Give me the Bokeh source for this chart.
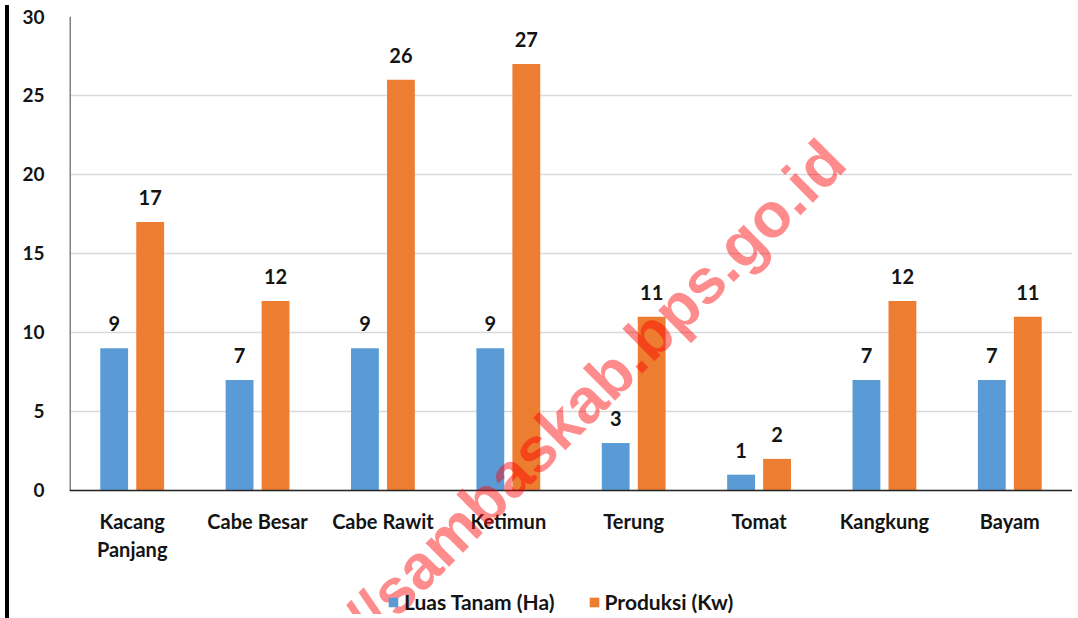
from bokeh.plotting import figure
from bokeh.models import (FactorRange, Range1d, ColumnDataSource, LabelSet, Label,
                          Legend, FixedTicker, Div, Span)
from bokeh.transform import dodge
from bokeh.layouts import row
from bokeh.core.properties import value
from bokeh.embed import file_html
from bokeh.resources import INLINE

# ---- data ----
categories = ["Kacang Panjang", "Cabe Besar", "Cabe Rawit", "Ketimun",
              "Terung", "Tomat", "Kangkung", "Bayam"]
tick_labels = ["Kacang\nPanjang", "Cabe Besar", "Cabe Rawit", "Ketimun",
               "Terung", "Tomat", "Kangkung", "Bayam"]
luas_tanam = [9, 7, 9, 9, 3, 1, 7, 7]
produksi = [17, 12, 26, 27, 11, 2, 12, 11]
series_names = ["Luas Tanam (Ha)", "Produksi (Kw)"]
y_ticks = [0, 5, 10, 15, 20, 25, 30]
watermark = "//sambaskab.bps.go.id"

BLUE = "#5B9BD5"
ORANGE = "#ED7D31"
TXT = "#141414"
FONT = "Lato"

line1 = [t.split("\n")[0] for t in tick_labels]
line2 = [t.split("\n")[1] if "\n" in t else "" for t in tick_labels]

src = ColumnDataSource(dict(
    cat=categories,
    luas=luas_tanam,
    prod=produksi,
    luas_lbl=[str(v) for v in luas_tanam],
    prod_lbl=[str(v) for v in produksi],
    l1=line1,
    l2=line2,
    zero=[0] * len(categories),
))

H = 614
# frame extends to the bottom of the canvas so that labels, legend and the
# watermark below the zero line are drawn inside it
p = figure(x_range=FactorRange(*categories), y_range=Range1d(-7.85, y_ticks[-1]),
           width=1058, height=H, output_backend="svg", toolbar_location=None,
           min_border_left=55, min_border_right=0, min_border_top=16,
           min_border_bottom=0)
p.outline_line_color = None
p.background_fill_color = "white"
p.border_fill_color = "white"

off = 0.1435
bw = 0.222
r1 = p.vbar(x=dodge("cat", -off, range=p.x_range), top="luas", width=bw,
            source=src, fill_color=BLUE, line_color=None)
r2 = p.vbar(x=dodge("cat", off, range=p.x_range), top="prod", width=bw,
            source=src, fill_color=ORANGE, line_color=None)

for col, lbl, o in (("luas", "luas_lbl", -off), ("prod", "prod_lbl", off)):
    p.add_layout(LabelSet(x=dodge("cat", o, range=p.x_range), y=col, text=lbl,
                          source=src, y_offset=17, text_align="center",
                          text_baseline="alphabetic", text_font=value(FONT),
                          text_font_style="bold", text_font_size="20px",
                          text_color=TXT))

# category labels under the zero line
for col, yo in (("l1", -31), ("l2", -59)):
    p.add_layout(LabelSet(x="cat", y="zero", text=col, source=src,
                          y_offset=yo, text_align="center",
                          text_baseline="middle", text_font=value(FONT),
                          text_font_style="bold", text_font_size="20px",
                          text_color=TXT))

# axes
p.xaxis.visible = False
p.xgrid.grid_line_color = None
p.yaxis.ticker = FixedTicker(ticks=y_ticks)
p.ygrid.grid_line_color = "#d9d9d9"
p.ygrid.grid_line_width = 1.5
p.yaxis.axis_line_color = None
p.yaxis.major_tick_line_color = None
p.yaxis.minor_tick_line_color = None
p.yaxis.major_label_standoff = 19
p.yaxis.major_label_text_font = FONT
p.yaxis.major_label_text_font_style = "bold"
p.yaxis.major_label_text_font_size = "19px"
p.yaxis.major_label_text_color = TXT

# y-axis line from 0 to 30 and the zero (category axis) line
p.segment(x0=[0], y0=[y_ticks[0]], x1=[0], y1=[y_ticks[-1]],
          line_color="#7f7f7f", line_width=3)
p.add_layout(Span(location=0, dimension="width", line_color="#262626",
                  line_width=1.5))

legend = Legend(items=[(series_names[0], [r1]), (series_names[1], [r2])],
                location=(318, 0), orientation="horizontal",
                glyph_width=12, glyph_height=12, label_height=16,
                label_standoff=5, spacing=33, padding=0, margin=0,
                border_line_color=None, background_fill_alpha=0,
                label_text_font=FONT, label_text_font_style="bold",
                label_text_font_size="21px", label_text_color=TXT,
                label_text_baseline="middle")
p.add_layout(legend, "center")

p.add_layout(Label(x=2.286, y=-8.73, text=watermark, angle=45,
                   angle_units="deg", text_font="Liberation Sans",
                   text_font_style="bold", text_font_size="63px",
                   text_color="#ff0000", text_alpha=0.45,
                   text_align="left", text_baseline="alphabetic"))

bar = Div(width=4, height=H, styles={"background-color": "black"})
layout = row(bar, p)

open("out.html", "w").write(file_html(layout, INLINE))
